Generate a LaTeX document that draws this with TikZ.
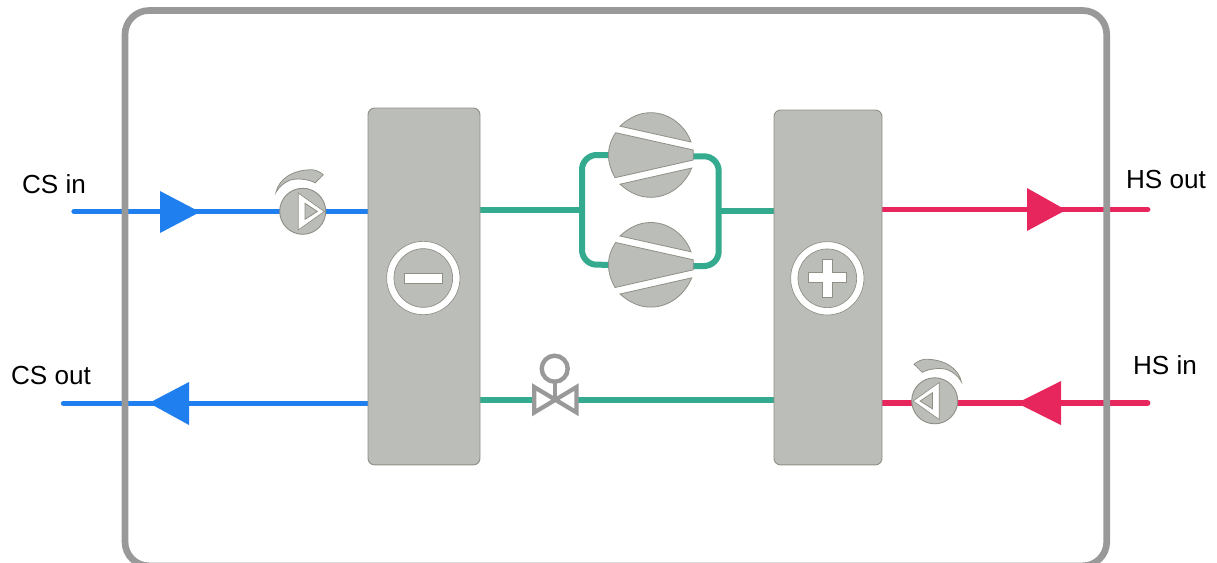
\documentclass[tikz,border=0pt]{standalone}
\usepackage{fontspec}
\usetikzlibrary{calc,backgrounds}
\setmainfont{Liberation Sans}
\definecolor{framegrey}{HTML}{999999}
\definecolor{unitfill}{HTML}{BBBDB9}
\definecolor{unitedge}{HTML}{8F8F86}
\definecolor{coldblue}{HTML}{1F7FEF}
\definecolor{hotred}{HTML}{E8265E}
\definecolor{pipegreen}{HTML}{34AB8E}
\tikzset{
  every node/.style={outer sep=0pt},
  label text/.style={font=\fontsize{19.6pt}{22pt}\selectfont,text=black,inner sep=0pt},
  unitbox/.style={draw=unitedge,fill=unitfill,line width=0.7pt,rounded corners=5pt,inner sep=0pt},
  pipe/.style={line width=4.5pt,pipegreen},
  coldline/.style={line width=4pt,coldblue},
  hotline/.style={line width=4.3pt,hotred},
  part/.style={draw=unitedge,fill=unitfill,line width=0.6pt},
  anchorpt/.style={inner sep=0pt,minimum size=0pt},
  pumpbody/.style={circle,draw=unitedge,fill=unitfill,line width=0.7pt,minimum size=34.5pt,inner sep=0pt},
}
\newcommand{\pumpmark}[3]{% x, y, x-direction
  \begin{scope}[shift={(#1,#2)},xscale=#3]
    \draw[part] (-26.7,-19) .. controls (-24,-32) and (-10,-42) .. (10,-41.5)
      .. controls (14,-41) and (18,-39) .. (20.6,-36.5)
      -- (12.5,-28.5) .. controls (4,-33) and (-8,-33) .. (-13,-31)
      .. controls (-19,-28.5) and (-24,-24) .. (-26.7,-19) -- cycle;
    \draw[fill=white,draw=unitedge,line width=0.5pt] (-4.5,-18.3) -- (21.6,0.2) -- (-4.5,18.7) -- cycle;
    \draw[part] (2.3,-8) -- (14.6,0.2) -- (2.3,8) -- cycle;
  \end{scope}}
\newcommand{\compressor}[2]{% cx, cy
  \begin{scope}[shift={(#1,#2)}]
    \draw[part] (-30.7,-28.8) .. controls (-22,-37) and (-12,-42.3) .. (0,-42.3)
      .. controls (20,-42.3) and (35,-28) .. (40.3,-13) -- cycle;
    \draw[part] (-30.7,29.2) .. controls (-22,37) and (-12,42.3) .. (0,42.3)
      .. controls (20,42.3) and (35,28) .. (41,13) -- cycle;
    \draw[part] (-35,-22.3) .. controls (-40,-15) and (-42.3,-7) .. (-42.3,0)
      .. controls (-42.3,7) and (-40,15) .. (-35.7,22.7)
      -- (42.6,5) -- (42.6,-5) -- cycle;
  \end{scope}}
\begin{document}
\begin{tikzpicture}[x=0.75pt,y=-0.75pt]
\useasboundingbox (0,0) rectangle (1217,562);
% anchors for free ends
\coordinate (csinend) at (74,211.5);
\coordinate (csoutend) at (63.5,403.3);
\coordinate (hsoutend) at (1147.5,209.5);
\coordinate (hsinend) at (1147.5,402.8);
% units
\node[unitbox,anchor=north west,minimum width=84pt,minimum height=267.7pt] (evap) at (368,108) {};
\node[unitbox,anchor=north west,minimum width=81pt,minimum height=266.2pt] (cond) at (774,110) {};
% nodes on lines
\node[pumpbody] (pumpa) at (302.7,211.3) {};
\node[pumpbody] (pumpb) at (934.7,400.8) {};
\node[circle,inner sep=0pt,minimum size=61pt] (compa) at (650.7,155) {};
\node[circle,inner sep=0pt,minimum size=61pt] (compb) at (650.7,264.8) {};
\node[anchorpt] (valvel) at (534,400) {};
\node[anchorpt] (valver) at (577,400) {};
% lines and frame, behind everything else
\begin{scope}[on background layer]
\draw[coldline,line cap=round] (csinend) -- (evap.west |- csinend);
\draw[coldline,line cap=round] (evap.west |- csoutend) -- (csoutend);
\draw[hotline,line cap=round] (cond.east |- hsoutend) -- (hsoutend);
\draw[hotline,line cap=round] (hsinend) -- (pumpb.east |- hsinend);
\draw[hotline] (pumpb.west |- hsinend) -- (cond.east |- hsinend);
\draw[pipe] (evap.east |- 0,210) -- (582,210);
\draw[pipe] (718.7,211) -- (cond.west |- 0,211);
\draw[pipe] (evap.east |- valvel) -- (valvel);
\draw[pipe] (valver) -- (cond.west |- valver);
\draw[pipe,rounded corners=11pt] (compa.west) -- (582,155) -- (582,264.6) -- (compb.west);
\draw[pipe,rounded corners=11pt] ($(compa.east)+(0,1.3)$) -- (718.7,156.3) -- (718.7,266) -- ($(compb.east)+(0,1.2)$);
\begin{scope}
\clip (0,0) rectangle (1217,562);
\node[draw=framegrey,line width=5pt,rounded corners=18pt,inner sep=0pt,minimum width=736.3pt,minimum height=416.5pt,anchor=north west] (frame) at (125,10.5) {};
\end{scope}
\end{scope}
% arrowheads
\draw[fill=coldblue,draw=none] (160,191) -- (200,212) -- (160,233) -- cycle;
\draw[fill=coldblue,draw=none] (189,382) -- (149,403) -- (189,425) -- cycle;
\draw[fill=hotred,draw=none] (1027,188) -- (1066,210) -- (1027,231) -- cycle;
\draw[fill=hotred,draw=none] (1061,381) -- (1017,403) -- (1061,425) -- cycle;
% compressors
\compressor{650.7}{155}
\compressor{650.7}{264.8}
% pumps
\pumpmark{302.7}{211.3}{1}
\pumpmark{934.7}{400.8}{-1}
% valve
\draw[framegrey,line width=3.2pt,line join=miter] (534.2,387) -- (576.6,412.5) -- (576.6,387) -- (534.2,412.5) -- cycle;
\draw[framegrey,line width=3.2pt] (555,381) -- (555,400);
\node[circle,draw=framegrey,line width=3.3pt,fill=white,minimum size=19.5pt,inner sep=0pt] (valvehead) at (554.7,368.7) {};
% rings
\node[circle,draw=unitedge,fill=white,line width=0.5pt,minimum size=55pt,inner sep=0pt] (ringa) at (423.3,278) {};
\node[circle,draw=unitedge,fill=unitfill,line width=0.5pt,minimum size=44pt,inner sep=0pt] at (ringa) {};
\node[draw=unitedge,fill=white,line width=0.4pt,minimum width=29pt,minimum height=7.5pt,inner sep=0pt] at (ringa) {};
\node[circle,draw=unitedge,fill=white,line width=0.5pt,minimum size=55pt,inner sep=0pt] (ringb) at (827.3,278.3) {};
\node[circle,draw=unitedge,fill=unitfill,line width=0.5pt,minimum size=44pt,inner sep=0pt] at (ringb) {};
\draw[draw=unitedge,fill=white,line width=0.4pt] (822.3,259.3) -- (832.3,259.3) -- (832.3,272.7) -- (846.7,272.7) -- (846.7,282.7) -- (832.3,282.7) -- (832.3,297.3) -- (822.3,297.3) -- (822.3,282.7) -- (808.3,282.7) -- (808.3,272.7) -- (822.3,272.7) -- cycle;
% labels
\node[label text] (csin) at (54,184) {CS in};
\node[label text] (csout) at (51,375) {CS out};
\node[label text] (hsout) at (1166,179) {HS out};
\node[label text] (hsin) at (1165,365) {HS in};
\end{tikzpicture}
\end{document}
